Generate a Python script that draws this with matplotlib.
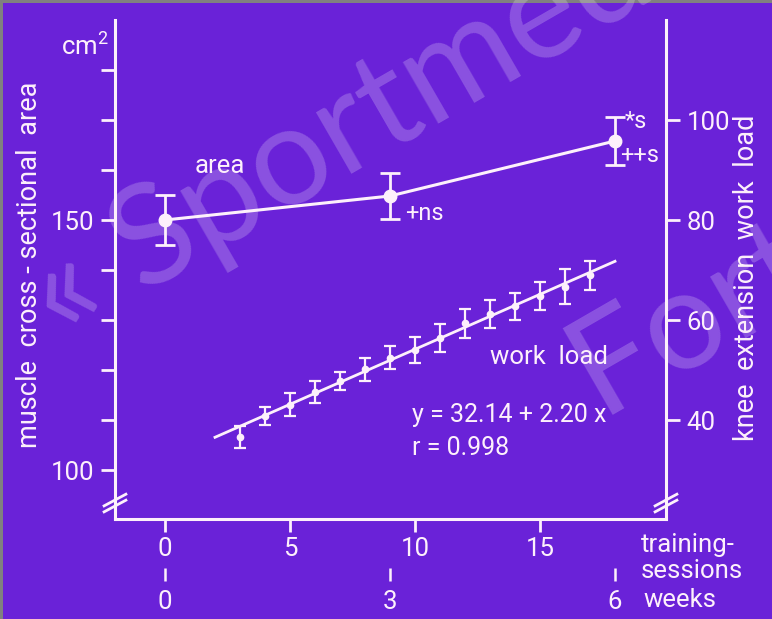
import matplotlib.pyplot as plt
from matplotlib.patches import Rectangle

# muscle cross-sectional area (cm^2) at 0, 3 and 6 weeks
area_sessions = [0, 9, 18]
area_mean = [150.0, 154.8, 165.8]
area_sd = [5.0, 4.7, 4.8]

# knee extension work load per training session
load_sessions = list(range(3, 18))
load_mean = [36.6, 40.8, 43.1, 45.7, 47.8, 50.2, 52.5, 54.1,
             56.4, 59.4, 61.2, 62.8, 64.8, 66.7, 69.0]
load_sd = [2.2, 1.8, 2.3, 2.2, 1.8, 2.3, 2.3, 2.6,
           2.8, 2.9, 2.8, 2.7, 2.8, 3.4, 2.9]

# regression of work load on sessions
fit_a = 32.14
fit_b = 2.20
fit_r = 0.998
fit_range = [2, 18]

session_ticks = [0, 5, 10, 15]
week_ticks = [0, 3, 6]
area_ticks = list(range(100, 190, 10))
area_labels = ["100" if v == 100 else "150" if v == 150 else "" for v in area_ticks]
load_ticks = [40, 60, 80, 100]

BG = "#6a22d8"
FG = "#fdf0fb"
FONT = ["Roboto", "DejaVu Sans"]
FS = 18.5

plt.rcParams["font.family"] = FONT
plt.rcParams["mathtext.fontset"] = "custom"
plt.rcParams["mathtext.rm"] = "Roboto"

W, H = 772, 619
fig = plt.figure(figsize=(W / 100, H / 100), dpi=100)
fig.patch.set_facecolor("#808080")
fig.add_artist(Rectangle((3 / W, 0), 1, 1 - 3 / H, transform=fig.transFigure,
                         facecolor=BG, edgecolor="none", zorder=-5))

# faint watermark across the slide
wm = dict(rotation=30, rotation_mode="anchor", ha="left", va="baseline",
          fontsize=100, color="white", alpha=0.22, family=["Lato", "DejaVu Sans"],
          zorder=-4)
fig.text(60 / W, 1 - 342 / H, "« Sportmedizin", **wm)
fig.text(600 / W, 1 - 415 / H, "Fort", **wm)

ax = fig.add_axes([115 / W, 100 / H, 551 / W, 499 / H])
ax.set_facecolor("none")
ax.set_xlim(-2, 20.04)
ax.set_ylim(90.2, 190)
ax2 = ax.twinx()
ax2.set_ylim(20.2, 120)

for s in ["top", "right"]:
    ax.spines[s].set_visible(False)
for s in ["top", "left", "bottom"]:
    ax2.spines[s].set_visible(False)
for sp in [ax.spines["left"], ax.spines["bottom"], ax2.spines["right"]]:
    sp.set_color(FG)
    sp.set_linewidth(2.2)
    sp.set_capstyle("projecting")

ax.set_yticks(area_ticks)
ax.set_yticklabels(area_labels)
ax.set_xticks(session_ticks)
ax.tick_params(axis="y", direction="out", length=10, width=2, colors=FG,
               labelsize=FS, pad=5)
ax.tick_params(axis="x", direction="out", length=9, width=2, colors=FG,
               labelsize=FS, pad=4)
ax2.set_yticks(load_ticks)
ax2.tick_params(axis="y", direction="out", length=10, width=2, colors=FG,
                labelsize=FS, pad=5)

# weeks scale below the sessions scale
wk = ax.secondary_xaxis(-0.098, functions=(lambda s: s / 3, lambda w: w * 3))
wk.set_xticks(week_ticks)
wk.spines["bottom"].set_visible(False)
wk.tick_params(axis="x", direction="out", length=9, width=1.8, colors=FG,
               labelsize=FS, pad=7)

# axis breaks
for x0 in [0, 1]:
    for dy in [-0.006, 0.006]:
        ax.plot([x0 - 0.022, x0 + 0.022], [0.032 + dy - 0.013, 0.032 + dy + 0.013],
                transform=ax.transAxes, color=FG, lw=2, clip_on=False,
                solid_capstyle="butt")

# area
ax.plot(area_sessions, area_mean, color=FG, lw=2.2, zorder=3)
ax.errorbar(area_sessions, area_mean, yerr=area_sd, fmt="o", color=FG, ms=9,
            elinewidth=2, capsize=7, capthick=2, zorder=4)

# work load
ax2.plot(fit_range, [fit_a + fit_b * x for x in fit_range], color=FG, lw=2, zorder=3)
ax2.errorbar(load_sessions, load_mean, yerr=load_sd, fmt="o", color=FG, ms=4.5,
             elinewidth=1.6, capsize=4, capthick=1.6, zorder=4)

txt = dict(color=FG, ha="left", va="center")
ax.text(1.2, 160.8, "area", fontsize=FS, **txt)
ax.text(9.6, 151.4, "+ns", fontsize=17, **txt)
ax.text(18.4, 169.6, "*s", fontsize=17, **txt)
ax.text(18.2, 162.8, "++s", fontsize=17, **txt)
ax.text(13.0, 122.6, "work  load", fontsize=FS, **txt)
ax.text(9.9, 111.0, f"y = {fit_a:.2f} + {fit_b:.2f} x", fontsize=18, **txt)
ax.text(9.9, 104.4, f"r = {fit_r}", fontsize=18, **txt)

fig.text(85 / W, 1 - 46 / H, r"cm$^2$", color=FG, fontsize=FS, ha="center", va="center")
fig.text(30 / W, 1 - 265 / H, "muscle  cross - sectional  area", color=FG, fontsize=19.5,
         rotation=90, ha="center", va="center")
fig.text(747 / W, 1 - 278 / H, "knee  extension  work  load", color=FG, fontsize=19.5,
         rotation=90, ha="center", va="center")
fig.text(641 / W, 1 - 545 / H, "training-", color=FG, fontsize=FS, ha="left", va="center")
fig.text(641 / W, 1 - 571 / H, "sessions", color=FG, fontsize=FS, ha="left", va="center")
fig.text(643 / W, 1 - 600 / H, "weeks", color=FG, fontsize=FS, ha="left", va="center")

fig.savefig("out.png", dpi=100, facecolor=fig.get_facecolor())
